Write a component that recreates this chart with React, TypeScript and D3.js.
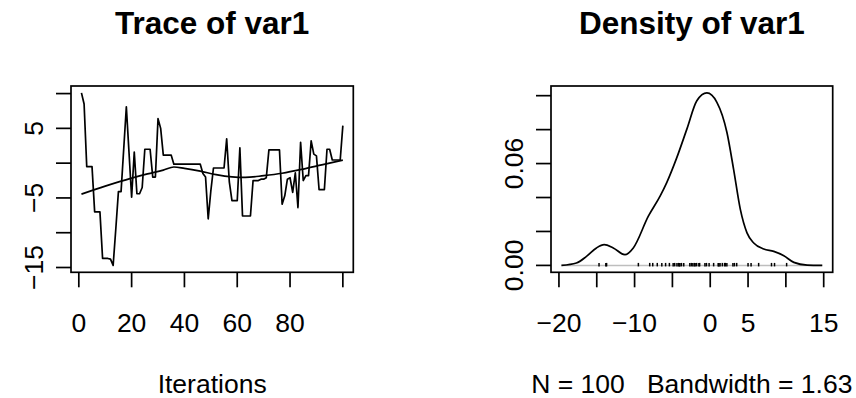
import React from 'react';
import * as d3 from 'd3';

// var1 chain, iterations 1..100
const traceVals = [
  10.1, 8.5, -0.5, -0.5, -0.5, -7.0, -7.0, -7.0, -13.7, -13.7,
  -13.7, -13.8, -14.7, -9.5, -4.1, -4.1, 2.0, 8.1, 1.6, -4.9,
  1.6, -4.4, -4.4, -3.5, 2.0, 2.0, 2.0, -2.0, -2.0, 6.4,
  5.0, 1.15, 1.15, 1.15, 1.15, -0.15, -0.15, -0.15, -0.15, -0.15,
  -0.15, -0.15, -0.15, -0.15, -0.15, -0.15, -1.5, -2.0, -8.0, -4.0,
  -0.7, -0.7, -0.7, -0.7, -0.7, 3.5, -2.7, -5.4, -5.4, -5.4,
  2.2, -7.6, -7.6, -7.6, -7.6, -2.5, -2.5, -2.5, -2.3, -2.3,
  -2.1, 1.9, 1.9, 1.9, 1.9, 1.9, -5.9, -4.7, -2.3, -2.1,
  -4.2, -1.4, -6.4, 3.0, -2.5, -1.8, -1.8, 3.2, 1.3, 1.05,
  -3.8, -3.8, -3.8, 2.0, 2.0, 0.45, 0.45, 0.45, 0.45, 5.4,
];
const iterations = traceVals.map((_, i) => i + 1);

// lowess smooth
const smoothIter = [1, 10, 20, 26, 32, 36, 40, 46, 52, 58, 63, 70, 77, 85, 92, 100];
const smoothVals = [-4.45, -3.3, -2.15, -1.55, -1.0, -0.55, -0.75, -1.15, -1.65, -1.97, -2.05, -1.8, -1.45, -0.85, -0.25, 0.43];

// kernel density curve
const densX = [-19.67, -17.69, -16.36, -15.04, -14.02, -12.82, -11.27, -10.17, -8.18, -6.63, -5.75, -4.42, -3.09, -1.77, -0.44, 0.88, 2.21, 3.09, 3.98, 4.86, 5.75, 7.07, 8.4, 9.73, 11.05, 12.82, 14.81];
const densY = [0.0, 0.0014, 0.0053, 0.0103, 0.0122, 0.0103, 0.0063, 0.0103, 0.029, 0.0408, 0.0488, 0.0635, 0.0803, 0.097, 0.1016, 0.0961, 0.0783, 0.0566, 0.033, 0.0192, 0.0132, 0.0097, 0.0083, 0.0057, 0.0018, 0.0002, 0.0];

const traceXTicks = [0, 20, 40, 60, 80, 100];
const traceXLabels = ['0', '20', '40', '60', '80', ''];
const traceYTicks = [-15, -10, -5, 0, 5, 10];
const traceYLabels = ['\u221215', '', '\u22125', '', '5', ''];
const densXTicks = [-20, -15, -10, -5, 0, 5, 10, 15];
const densXLabels = ['\u221220', '', '\u221210', '', '0', '5', '', '15'];
const densYTicks = [0, 0.02, 0.04, 0.06, 0.08, 0.1];
const densYLabels = ['0.00', '', '', '0.06', '', ''];

const FONT = '"Liberation Sans", Arial, Helvetica, sans-serif';
const FS = 26.5;
const LW = 1.7;
const top = 86;
const bottom = 272.3;

function Panel({ left, right, xScale, yScale, xTicks, xLabels, yTicks, yLabels, title, xlab, children }: any) {
  const cx = (left + right) / 2;
  return (
    <g>
      <text x={cx} y={33.5} textAnchor="middle" fontSize={31.5} fontWeight="bold" fontFamily={FONT}>{title}</text>
      {children}
      <rect x={left} y={top} width={right - left} height={bottom - top} fill="none" stroke="#000" strokeWidth={LW} />
      {xTicks.map((t: number, i: number) => (
        <g key={'x' + i}>
          <line x1={xScale(t)} x2={xScale(t)} y1={bottom} y2={bottom + 15} stroke="#000" strokeWidth={LW} />
          {xLabels[i] && (
            <text x={xScale(t)} y={331.5} textAnchor="middle" fontSize={FS} fontFamily={FONT}>{xLabels[i]}</text>
          )}
        </g>
      ))}
      {yTicks.map((t: number, i: number) => (
        <g key={'y' + i}>
          <line x1={left - 15} x2={left} y1={yScale(t)} y2={yScale(t)} stroke="#000" strokeWidth={LW} />
          {yLabels[i] && (
            <text transform={`translate(${left - 28},${yScale(t)}) rotate(-90)`} textAnchor="middle" fontSize={FS} fontFamily={FONT}>{yLabels[i]}</text>
          )}
        </g>
      ))}
      <text x={cx} y={392.5} textAnchor="middle" fontSize={FS} fontFamily={FONT} style={{ whiteSpace: 'pre' }}>{xlab}</text>
    </g>
  );
}

export default function App() {
  // trace panel
  const tx = d3.scaleLinear().domain([1 - 3.96, 100 + 3.96]).range([71, 353.3]);
  const ty = d3.scaleLinear().domain([-15.69, 11.09]).range([bottom, top]);
  const traceLine = d3.line<number>().x((_, i) => tx(iterations[i])).y((d) => ty(d));
  const smoothLine = d3
    .line<number>()
    .x((_, i) => tx(smoothIter[i]))
    .y((d) => ty(d))
    .curve(d3.curveMonotoneX);

  // density panel
  const dx = d3.scaleLinear().domain([-21.05, 16.19]).range([551, 832.7]);
  const dy = d3.scaleLinear().domain([-0.00406, 0.1057]).range([bottom, top]);
  const densLine = d3
    .line<number>()
    .x((_, i) => dx(densX[i]))
    .y((d) => dy(d))
    .curve(d3.curveMonotoneX);
  const rug = Array.from(new Set(traceVals));

  return (
    <svg width={856} height={398} style={{ position: 'absolute', left: 0, top: 0, background: '#fff' }}>
      <Panel
        left={71}
        right={353.3}
        xScale={tx}
        yScale={ty}
        xTicks={traceXTicks}
        xLabels={traceXLabels}
        yTicks={traceYTicks}
        yLabels={traceYLabels}
        title="Trace of var1"
        xlab="Iterations"
      >
        <path d={traceLine(traceVals) || ''} fill="none" stroke="#000" strokeWidth={LW} strokeLinejoin="round" />
        <path d={smoothLine(smoothVals) || ''} fill="none" stroke="#000" strokeWidth={LW} />
      </Panel>
      <Panel
        left={551}
        right={832.7}
        xScale={dx}
        yScale={dy}
        xTicks={densXTicks}
        xLabels={densXLabels}
        yTicks={densYTicks}
        yLabels={densYLabels}
        title="Density of var1"
        xlab="N = 100   Bandwidth = 1.63"
      >
        <line x1={dx(densX[0])} x2={dx(densX[densX.length - 1])} y1={dy(0)} y2={dy(0)} stroke="#bebebe" strokeWidth={1.5} />
        {rug.map((v, i) => (
          <line key={i} x1={dx(v)} x2={dx(v)} y1={dy(0) + 1} y2={dy(0) - 2.5} stroke="#000" strokeWidth={1.5} />
        ))}
        <path d={densLine(densY) || ''} fill="none" stroke="#000" strokeWidth={LW} />
      </Panel>
    </svg>
  );
}
